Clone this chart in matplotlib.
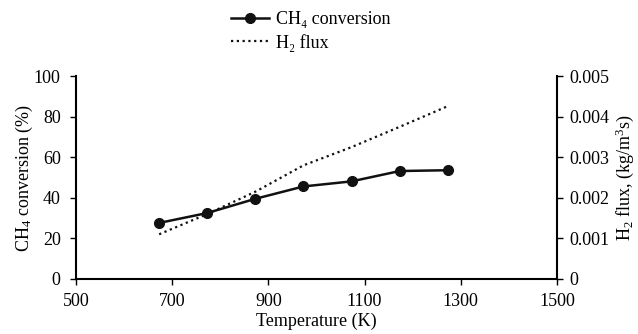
import numpy as np
import matplotlib.pyplot as plt
from matplotlib.lines import Line2D

plt.rcParams['font.family'] = ['Liberation Serif', 'DejaVu Serif']
plt.rcParams['mathtext.fontset'] = 'custom'
plt.rcParams['mathtext.rm'] = 'Liberation Serif'
plt.rcParams['mathtext.it'] = 'Liberation Serif:italic'
plt.rcParams['font.size'] = 13

# данные
temperature = [673, 773, 873, 973, 1073, 1173, 1273]
ch4_conversion = [27.6, 32.5, 39.5, 45.6, 48.1, 53.2, 53.6]
h2_flux = [0.00110, 0.00160, 0.00215, 0.00280, 0.00325, 0.00375, 0.00426]

fig = plt.figure(figsize=(6.38, 3.34), dpi=100)
ax = fig.add_axes([0.119, 0.165, 0.754, 0.607])
ax2 = ax.twinx()

ax.plot(temperature, ch4_conversion, color='#111111', lw=1.8, marker='o', ms=7)
ax2.plot(temperature, h2_flux, color='#111111', lw=1.6, ls=(0, (1, 1.6)))

ax.set_xlim(500, 1500)
ax.set_ylim(0, 100)
ax2.set_ylim(0, 0.005)
ax.set_xticks([500, 700, 900, 1100, 1300, 1500])
ax.set_yticks([0, 20, 40, 60, 80, 100])
ax2.set_yticks([0, 0.001, 0.002, 0.003, 0.004, 0.005])
ax2.set_yticklabels(['0', '0.001', '0.002', '0.003', '0.004', '0.005'])

for a in (ax, ax2):
    a.spines['top'].set_visible(False)
    for s in a.spines.values():
        s.set_linewidth(1.5)
    a.tick_params(direction='out', length=4, width=1, labelsize=13)
ax.tick_params(axis='y', pad=7)
ax.tick_params(axis='x', pad=6)
ax2.tick_params(axis='y', pad=5)
ax.spines['right'].set_visible(False)
ax2.spines['left'].set_visible(False)
ax2.spines['bottom'].set_visible(False)

ax.set_xlabel('Temperature (K)', fontsize=13, labelpad=2)
ax.set_ylabel('CH$_4$ conversion (%)', fontsize=13, labelpad=-1)
ax2.set_ylabel('H$_2$ flux, (kg/m$^3$s)', fontsize=13, labelpad=3)

handles = [Line2D([], [], color='#111111', lw=1.8, marker='o', ms=7),
           Line2D([], [], color='#111111', lw=1.6, ls=(0, (1, 1.6)))]
fig.legend(handles, ['CH₄ conversion', 'H₂ flux'], loc='upper left',
           bbox_to_anchor=(0.336, 1.015), frameon=False, fontsize=13,
           handlelength=2.1, handletextpad=0.4, labelspacing=0.3)

fig.savefig('out.png', dpi=100)
